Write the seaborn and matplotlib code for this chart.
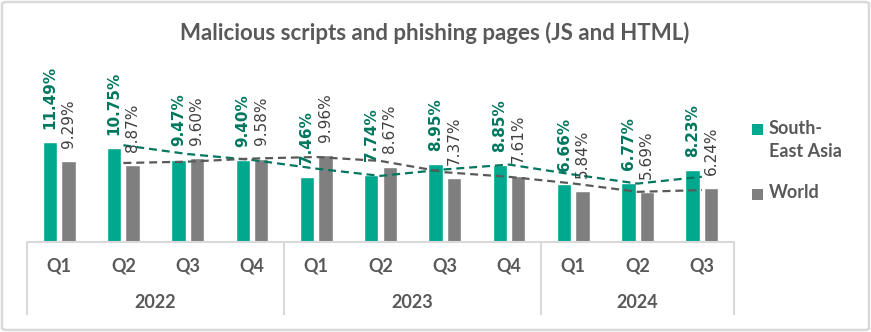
import numpy as np
import pandas as pd
import matplotlib
matplotlib.use("Agg")
import matplotlib.pyplot as plt
from matplotlib.patches import FancyBboxPatch, Rectangle
import seaborn as sns

# ---- data -------------------------------------------------------------
years = ["2022", "2022", "2022", "2022", "2023", "2023", "2023", "2023", "2024", "2024", "2024"]
quarters = ["Q1", "Q2", "Q3", "Q4", "Q1", "Q2", "Q3", "Q4", "Q1", "Q2", "Q3"]
sea_values = [11.49, 10.75, 9.47, 9.40, 7.46, 7.74, 8.95, 8.85, 6.66, 6.77, 8.23]
world_values = [9.29, 8.87, 9.60, 9.58, 9.96, 8.67, 7.37, 7.61, 5.84, 5.69, 6.24]
series_names = ["South-East Asia", "World"]
legend_labels = ["South-\nEast Asia", "World"]
title = "Malicious scripts and phishing pages (JS and HTML)"

# ---- styling ----------------------------------------------------------
TEAL = "#00A88E"
TEAL_DARK = "#00775F"
GREY = "#7F7F7F"
GREY_DARK = "#595959"
LABEL_GREY = "#404040"
LINE_GREY = "#D9D9D9"
UI_FONT = ["Lato", "DejaVu Sans"]

sns.set_style("white")
plt.rcParams["font.family"] = ["DejaVu Sans"]

periods = [f"{y} {q}" for y, q in zip(years, quarters)]
df = pd.DataFrame({
    "period": periods * 2,
    "region": [series_names[0]] * len(periods) + [series_names[1]] * len(periods),
    "value": sea_values + world_values,
})

W, H = 871, 332
fig = plt.figure(figsize=(W / 100, H / 100), dpi=100)
ax = fig.add_axes([27 / W, (H - 242) / H, 707 / W, 192 / H])

palette = [TEAL, GREY]
sns.barplot(data=df, x="period", y="value", hue="region", order=periods,
            hue_order=series_names, palette=palette, width=0.575,
            gap=0.22, saturation=1, ax=ax, legend=False)

ax.set_xlim(-0.5, len(periods) - 0.5)
ax.set_ylim(0, 192 / 8.7)

# value labels above each bar
for cont, vals, color, weight in zip(ax.containers, [sea_values, world_values],
                                     [TEAL_DARK, LABEL_GREY], ["bold", "normal"]):
    ax.bar_label(cont, labels=[f"{v:.2f}%" for v in vals], padding=9.5,
                 rotation=90, fontsize=11, color=color, fontweight=weight,
                 family="DejaVu Sans")

# two-period moving-average trend lines
for vals, color in zip([sea_values, world_values], [TEAL_DARK, GREY_DARK]):
    ma = pd.Series(vals).rolling(2).mean()
    trend = pd.DataFrame({"period": periods, "ma": ma}).dropna()
    sns.lineplot(data=trend, x="period", y="ma", sort=False, ax=ax,
                 color=color, linewidth=1.6, dashes=False)
    ax.lines[-1].set_linestyle((0, (3.6, 2.2)))

# axes decoration
for side in ["left", "right", "top"]:
    ax.spines[side].set_visible(False)
ax.spines["bottom"].set_color(LINE_GREY)
ax.spines["bottom"].set_linewidth(1.5)
ax.set_yticks([])
ax.set_xlabel("")
ax.set_ylabel("")
ax.set_xticks(range(len(periods)))
ax.set_xticklabels(quarters, fontsize=13, fontweight="bold", color=GREY_DARK,
                   family=UI_FONT)
ax.tick_params(axis="x", length=0, pad=11)

# year group separators and labels
trans = ax.get_xaxis_transform()
drop = -73 / 192
for xpos in [-0.5, 3.5, 7.5, len(periods) - 0.5]:
    ax.plot([xpos, xpos], [0, drop], transform=trans, color=LINE_GREY,
            linewidth=1.5, clip_on=False, solid_capstyle="butt")
year_names = list(dict.fromkeys(years))
for yname in year_names:
    idx = [i for i, y in enumerate(years) if y == yname]
    ax.annotate(yname, xy=((idx[0] + idx[-1]) / 2, 0), xycoords=trans,
                xytext=(0, -61 * 0.72), textcoords="offset points",
                ha="center", va="center", fontsize=13, fontweight="bold",
                color=GREY_DARK, family=UI_FONT, annotation_clip=False)

# legend: square marker beside the first line of each entry
legend_rows = [129.5, 194]
for label, color, yc in zip(legend_labels, palette, legend_rows):
    fig.add_artist(Rectangle((752 / W, 1 - (yc + 5.5) / H), 11 / W, 11 / H,
                             transform=fig.transFigure, facecolor=color,
                             edgecolor="none"))
    fig.text(769 / W, 1 - (yc - 9.5) / H, label, ha="left", va="top",
             fontsize=13, fontweight="bold", color=GREY_DARK, family=UI_FONT,
             linespacing=1.45)

# title
fig.text(435 / W, 1 - 33 / H, title, ha="center", va="center", fontsize=16,
         fontweight="bold", color=GREY_DARK, family=UI_FONT)

# outer frame
fig.patches.append(FancyBboxPatch((2 / W, 2 / H), 867 / W, 328 / H,
                                  boxstyle="round,pad=0,rounding_size=0.006",
                                  transform=fig.transFigure, facecolor="none",
                                  edgecolor=LINE_GREY, linewidth=1.8))

fig.savefig("out.png", dpi=100, facecolor="white")
